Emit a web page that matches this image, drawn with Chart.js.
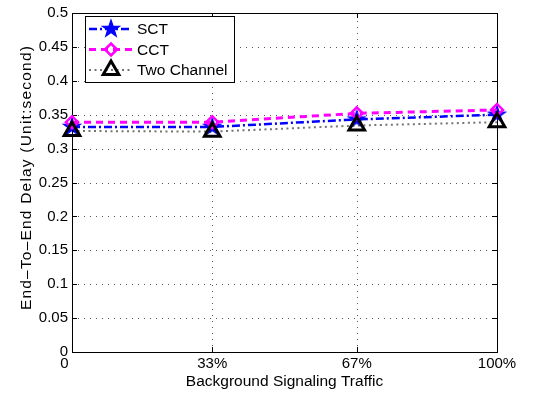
<!DOCTYPE html>
<html>
<head>
<meta charset="utf-8">
<script src="https://cdn.jsdelivr.net/npm/chart.js@4/dist/chart.umd.min.js"></script>
<style>
  html, body { margin: 0; padding: 0; background: #fff; }
  #wrap { width: 533px; height: 397px; }
</style>
</head>
<body>
<div id="wrap"><canvas id="c" width="533" height="397"></canvas></div>
<script>
// Background signalling traffic levels (percent) and end-to-end delay (seconds)
const trafficLevels = [0, 33, 67, 100];
const xTickLabels = ['0', '33%', '67%', '100%'];
const sctDelay = [0.332, 0.332, 0.343, 0.350];
const cctDelay = [0.339, 0.339, 0.352, 0.357];
const twoChannelDelay = [0.326, 0.325, 0.334, 0.339];
const seriesNames = ['SCT', 'CCT', 'Two Channel'];
const yMin = 0, yMax = 0.5, yStep = 0.05;

const FONT = '"Liberation Sans", Arial, Helvetica, sans-serif';
const GRID_DASH = [1, 5];

// filled five-pointed star used as the SCT marker
function makeStar(r, color) {
  const c = document.createElement('canvas');
  const s = Math.ceil(2 * r + 4);
  c.width = s; c.height = s;
  const g = c.getContext('2d');
  g.beginPath();
  for (let i = 0; i < 10; i++) {
    const a = -Math.PI / 2 + i * Math.PI / 5;
    const rr = i % 2 ? r * 0.4 : r;
    const px = s / 2 + Math.cos(a) * rr, py = s / 2 + Math.sin(a) * rr;
    i ? g.lineTo(px, py) : g.moveTo(px, py);
  }
  g.closePath();
  g.fillStyle = color; g.fill();
  g.strokeStyle = color; g.lineWidth = 1.2; g.stroke();
  return c;
}
const starMarker = makeStar(9, '#0000ff');

const toPoints = arr => trafficLevels.map((x, i) => ({ x, y: arr[i] }));

const datasets = [
  {
    label: seriesNames[0], data: toPoints(sctDelay),
    borderColor: '#0000ff', borderWidth: 2.5, borderDash: [8, 3, 2, 3],
    pointStyle: starMarker, pointRadius: 9, pointBorderWidth: 0,
    pointBorderColor: '#0000ff', pointBackgroundColor: '#0000ff',
    order: 2, clip: false
  },
  {
    label: seriesNames[1], data: toPoints(cctDelay),
    borderColor: '#ff00ff', borderWidth: 3, borderDash: [7, 5],
    pointStyle: 'rectRot', pointRadius: 6, pointBorderWidth: 2.5,
    pointBorderColor: '#ff00ff', pointBackgroundColor: 'rgba(0,0,0,0)',
    order: 1, clip: false
  },
  {
    label: seriesNames[2], data: toPoints(twoChannelDelay),
    borderColor: 'rgba(0,0,0,0.55)', borderWidth: 2, borderDash: [2, 3.5],
    pointStyle: 'triangle', pointRadius: 9, pointBorderWidth: 3,
    pointBorderColor: '#000', pointBackgroundColor: 'rgba(0,0,0,0)',
    order: 0, clip: false
  }
];

// dotted grid, box around the axes and short inward tick marks on all four sides
const framePlugin = {
  id: 'frame',
  beforeDatasetsDraw(chart) {
    const { ctx, chartArea: a, scales } = chart;
    ctx.save();
    // dotted grid lines at the interior ticks
    ctx.strokeStyle = 'rgba(0,0,0,0.65)';
    ctx.lineWidth = 1;
    ctx.setLineDash(GRID_DASH);
    ctx.beginPath();
    scales.x.ticks.forEach(t => {
      const px = Math.round(scales.x.getPixelForValue(t.value)) + 0.5;
      if (px <= a.left + 1 || px >= a.right - 1) return;
      ctx.moveTo(px, a.bottom); ctx.lineTo(px, a.top);
    });
    scales.y.ticks.forEach(t => {
      const py = Math.round(scales.y.getPixelForValue(t.value)) + 0.5;
      if (py <= a.top + 1 || py >= a.bottom - 1) return;
      ctx.moveTo(a.left, py); ctx.lineTo(a.right, py);
    });
    ctx.stroke();
    // axes box
    ctx.setLineDash([]);
    ctx.strokeStyle = '#000';
    ctx.strokeRect(Math.round(a.left) + 0.5, Math.round(a.top) + 0.5,
      Math.round(a.right - a.left), Math.round(a.bottom - a.top));
    // inward ticks
    const len = 5;
    ctx.beginPath();
    scales.x.ticks.forEach(t => {
      const px = Math.round(scales.x.getPixelForValue(t.value)) + 0.5;
      ctx.moveTo(px, a.bottom); ctx.lineTo(px, a.bottom - len);
      ctx.moveTo(px, a.top); ctx.lineTo(px, a.top + len);
    });
    scales.y.ticks.forEach(t => {
      const py = Math.round(scales.y.getPixelForValue(t.value)) + 0.5;
      ctx.moveTo(a.left, py); ctx.lineTo(a.left + len, py);
      ctx.moveTo(a.right, py); ctx.lineTo(a.right - len, py);
    });
    ctx.stroke();
    ctx.restore();
  }
};

// legend box in the upper-left corner of the axes
const legendPlugin = {
  id: 'boxLegend',
  afterDatasetsDraw(chart) {
    const { ctx } = chart;
    const bx = 85.5, by = 16.5, bw = 149, bh = 66;
    const rows = [29, 49.5, 70];
    ctx.save();
    ctx.fillStyle = '#fff';
    ctx.fillRect(bx, by, bw, bh);
    ctx.strokeStyle = '#000'; ctx.lineWidth = 1; ctx.setLineDash([]);
    ctx.strokeRect(bx, by, bw, bh);
    chart.data.datasets.forEach((ds, i) => {
      const y = rows[i];
      ctx.save();
      ctx.strokeStyle = ds.borderColor; ctx.lineWidth = ds.borderWidth;
      ctx.setLineDash(ds.borderDash);
      ctx.beginPath(); ctx.moveTo(89, y); ctx.lineTo(132, y); ctx.stroke();
      ctx.restore();

      ctx.save();
      ctx.setLineDash([]);
      ctx.strokeStyle = ds.pointBorderColor;
      ctx.fillStyle = ds.pointBackgroundColor;
      ctx.lineWidth = ds.pointBorderWidth;
      Chart.helpers.drawPoint(ctx, {
        pointStyle: ds.pointStyle, radius: ds.pointRadius, rotation: 0,
        borderWidth: ds.pointBorderWidth
      }, 111, y);
      ctx.restore();

      ctx.fillStyle = '#000';
      ctx.font = '15.5px ' + FONT;
      ctx.textBaseline = 'middle';
      ctx.textAlign = 'left';
      ctx.fillText(ds.label, 137, y + 1);
    });
    ctx.restore();
  }
};

// rotated y-axis title
const yTitlePlugin = {
  id: 'yTitle',
  afterDraw(chart) {
    const { ctx, chartArea: a } = chart;
    ctx.save();
    ctx.translate(27, (a.top + a.bottom) / 2 - 5);
    ctx.rotate(-Math.PI / 2);
    ctx.fillStyle = '#000';
    ctx.font = '15.5px ' + FONT;
    if ('letterSpacing' in ctx) ctx.letterSpacing = '1.2px';
    ctx.textAlign = 'center';
    ctx.textBaseline = 'middle';
    ctx.fillText('End\u2013To\u2013End Delay (Unit:second)', 0, 0);
    ctx.restore();
  }
};

new Chart(document.getElementById('c'), {
  type: 'line',
  data: { datasets },
  options: {
    responsive: false,
    animation: false,
    devicePixelRatio: 1,
    layout: { padding: { top: 11, right: 36, left: 0, bottom: 0 } },
    elements: { line: { tension: 0 } },
    plugins: { legend: { display: false }, tooltip: { enabled: false } },
    scales: {
      x: {
        type: 'linear', min: 0, max: 100,
        afterBuildTicks(scale) { scale.ticks = trafficLevels.map(v => ({ value: v })); },
        afterFit(scale) { scale.height = 45; },
        ticks: {
          padding: 3, maxRotation: 0, autoSkip: false, color: '#000',
          font: { family: FONT, size: 15 },
          callback(v) {
            const i = trafficLevels.indexOf(v);
            const s = i >= 0 ? xTickLabels[i] : '';
            return v === 0 ? s + '\u2002\u2002' : s;
          }
        },
        grid: { display: false, drawTicks: false },
        border: { display: false },
        title: {
          display: true, text: 'Background Signaling Traffic', color: '#000',
          font: { family: FONT, size: 15.5 }, padding: { top: 0, bottom: 6 }
        }
      },
      y: {
        min: yMin, max: yMax,
        afterFit(scale) { scale.width = 72; },
        ticks: {
          stepSize: yStep, padding: 4, color: '#000',
          font: { family: FONT, size: 15 },
          callback(v) { return String(Number(v.toFixed(2))); }
        },
        grid: { display: false, drawTicks: false },
        border: { display: false }
      }
    }
  },
  plugins: [framePlugin, legendPlugin, yTitlePlugin]
});
</script>
</body>
</html>
